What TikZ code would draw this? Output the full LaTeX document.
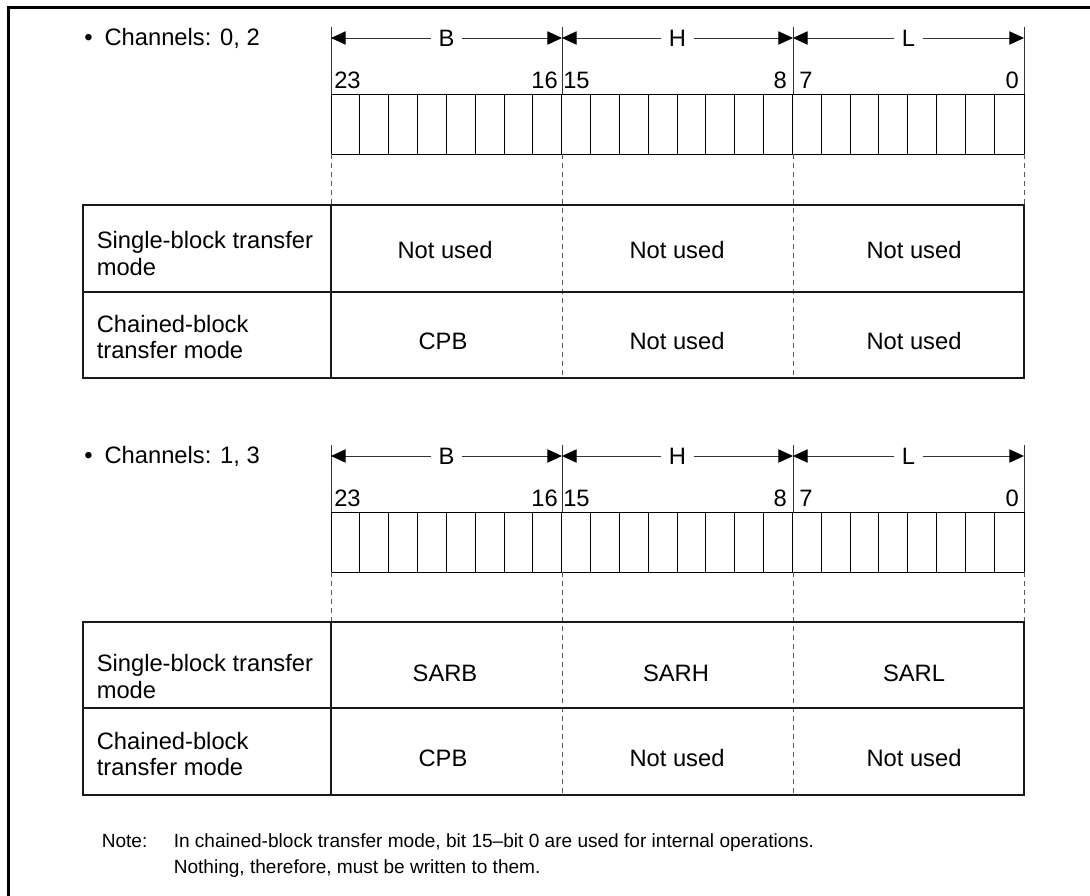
\documentclass[tikz,border=0pt]{standalone}
\usepackage{fontspec}
\setmainfont{Liberation Sans}
\usetikzlibrary{arrows.meta}
\tikzset{
  frame/.style={line width=2.25pt, line join=miter},
  tickline/.style={line width=0.75pt, black!80},
  dimline/.style={line width=0.75pt, black!80, >={Triangle[length=11pt,width=10pt,color=black]}},
  cellline/.style={line width=0.75pt, black},
  guide/.style={line width=0.75pt, black!65, dash pattern=on 3.75pt off 3pt},
  tblline/.style={line width=1pt, black!90},
  txt/.style={font=\fontsize{17.8pt}{21pt}\selectfont, inner sep=0pt},
  seglbl/.style={txt, inner xsep=5.5pt, inner ysep=0pt},
  notetxt/.style={font=\fontsize{14.3pt}{19.5pt}\selectfont, inner sep=0pt},
}
\newcommand{\regpart}[3]{%
  \begin{scope}[shift={(0,#2)}]
    \foreach \x/\n in {331/a,562/b,793/c,1024/d}{
      \coordinate (#1t\n) at (\x,27);
      \coordinate (#1r\n) at (\x,94);
      \coordinate (#1s\n) at (\x,154);
      \coordinate (#1m\n) at (\x,38);
      \coordinate (#1g\n) at (\x,205);
    }
    \node[txt, anchor=base west] (#1ch) at (84,45) {•\hspace{9pt}Channels: #3};
    % ticks
    \draw[tickline] (#1ta) -- (#1ra);
    \draw[tickline] (#1tb) -- (#1rb);
    \draw[tickline] (#1tc) -- (#1rc);
    \draw[tickline] (#1td) -- (#1rd);
    % segment labels and dimension arrows
    \node[seglbl] (#1B) at (446.5,38) {B};
    \node[seglbl] (#1H) at (677.5,38) {H};
    \node[seglbl] (#1L) at (908.5,38) {L};
    \draw[dimline,->] (#1B.west) -- (#1ma);
    \draw[dimline,->] (#1B.east) -- (#1mb);
    \draw[dimline,->] (#1H.west) -- (#1mb);
    \draw[dimline,->] (#1H.east) -- (#1mc);
    \draw[dimline,->] (#1L.west) -- (#1mc);
    \draw[dimline,->] (#1L.east) -- (#1md);
    % bit numbers
    \node[txt, anchor=base west] (#1n23) at (334,88) {23};
    \node[txt, anchor=base east] (#1n16) at (558,88) {16};
    \node[txt, anchor=base west] (#1n15) at (563,88) {15};
    \node[txt, anchor=base east] (#1n8) at (787,88) {8};
    \node[txt, anchor=base west] (#1n7) at (799,88) {7};
    \node[txt, anchor=base east] (#1n0) at (1019,88) {0};
    % register cells
    \draw[cellline] (#1ra) rectangle (#1sd);
    \foreach \i in {1,...,23}{
      \draw[cellline] (331+\i*28.8333,94) -- (331+\i*28.8333,154);
    }
    % guide lines down to the table
    \draw[guide] (#1sa) -- (#1ga);
    \draw[guide] (#1sd) -- (#1gd);
  \end{scope}
}
\begin{document}
\begin{tikzpicture}[x=0.75pt,y=-0.75pt]
\useasboundingbox (0,0) rectangle (1090,896);
% outer frame (open at right and bottom)
\draw[frame] (8.5,900) -- (8.5,7) -- (1095,7);

% ---------- Channels 0, 2 ----------
\regpart{p}{0}{0, 2}
\draw[guide] (562,154) -- (562,378);
\draw[guide] (793,154) -- (793,378);
\draw[tblline] (83,205) rectangle (1024,378);
\draw[tblline] (83,292) -- (1024,292);
\draw[tblline] (331,205) -- (331,378);
\node[txt, anchor=base west] (pl1a) at (96.5,248) {Single-block transfer};
\node[txt, anchor=base west] (pl1b) at (96.5,275) {mode};
\node[txt, anchor=base west] (pl2a) at (96.5,332) {Chained-block};
\node[txt, anchor=base west] (pl2b) at (96.5,358) {transfer mode};
\node[txt, anchor=base] (pv1b) at (445,258) {Not used};
\node[txt, anchor=base] (pv1h) at (677,258) {Not used};
\node[txt, anchor=base] (pv1l) at (914,258) {Not used};
\node[txt, anchor=base] (pv2b) at (443,349) {CPB};
\node[txt, anchor=base] (pv2h) at (677,349) {Not used};
\node[txt, anchor=base] (pv2l) at (914,349) {Not used};

% ---------- Channels 1, 3 ----------
\regpart{q}{418}{1, 3}
\draw[guide] (562,572) -- (562,795);
\draw[guide] (793,572) -- (793,795);
\draw[tblline] (83,622) rectangle (1024,795);
\draw[tblline] (83,708) -- (1024,708);
\draw[tblline] (331,622) -- (331,795);
\node[txt, anchor=base west] (ql1a) at (96.5,671) {Single-block transfer};
\node[txt, anchor=base west] (ql1b) at (96.5,698) {mode};
\node[txt, anchor=base west] (ql2a) at (96.5,749) {Chained-block};
\node[txt, anchor=base west] (ql2b) at (96.5,775) {transfer mode};
\node[txt, anchor=base] (qv1b) at (445,681) {SARB};
\node[txt, anchor=base] (qv1h) at (676,681) {SARH};
\node[txt, anchor=base] (qv1l) at (914,681) {SARL};
\node[txt, anchor=base] (qv2b) at (443,766) {CPB};
\node[txt, anchor=base] (qv2h) at (677,766) {Not used};
\node[txt, anchor=base] (qv2l) at (914,766) {Not used};

% ---------- note ----------
\node[notetxt, anchor=base west] (note) at (101.5,847) {Note:};
\node[notetxt, anchor=base west] (nl1) at (173.5,847) {In chained-block transfer mode, bit 15–bit 0 are used for internal operations.};
\node[notetxt, anchor=base west] (nl2) at (173.5,873) {Nothing, therefore, must be written to them.};
\end{tikzpicture}
\end{document}
